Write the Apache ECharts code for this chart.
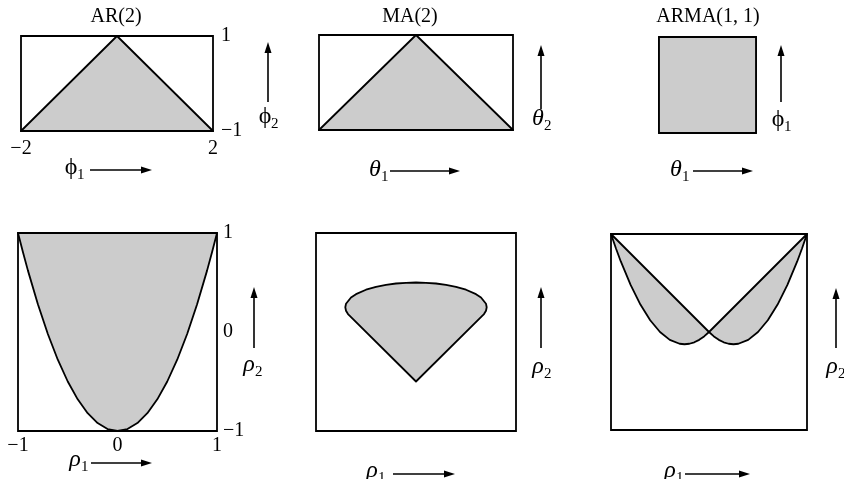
<!DOCTYPE html>
<html>
<head>
<meta charset="utf-8">
<script src="https://cdn.jsdelivr.net/npm/echarts@6/dist/echarts.min.js"></script>
<style>
  html, body { margin: 0; padding: 0; background: #fff; }
  #chart { width: 844px; height: 479px; }
</style>
</head>
<body>
<div id="chart"></div>
<script>
// Admissible regions: parameter space (top row) and autocorrelation space (bottom row)
const panelTitles = ['AR(2)', 'MA(2)', 'ARMA(1, 1)'];

// Top row: stationarity / invertibility regions in parameter space
const ar2Params = [[-2, -1], [0, 1], [2, -1]];
const ma2Params = [[-2, -1], [0, 1], [2, -1]];
const arma11Params = [[-1, -1], [1, -1], [1, 1], [-1, 1]];

// Bottom row: admissible (rho1, rho2) regions
const ar2Rho = [
  [-1, 1], [-0.95, 0.805], [-0.9, 0.62], [-0.8, 0.28], [-0.7, -0.02], [-0.6, -0.28],
  [-0.5, -0.5], [-0.4, -0.68], [-0.3, -0.82], [-0.2, -0.92], [-0.1, -0.98], [0, -1],
  [0.1, -0.98], [0.2, -0.92], [0.3, -0.82], [0.4, -0.68], [0.5, -0.5], [0.6, -0.28],
  [0.7, -0.02], [0.8, 0.28], [0.9, 0.62], [0.95, 0.805], [1, 1]
];
const ma2Rho = [
  [0, -0.5], [0.667, 0.167], [0.68, 0.181], [0.7, 0.215], [0.707, 0.25], [0.7, 0.285],
  [0.65, 0.348], [0.6, 0.382], [0.5, 0.427], [0.4, 0.456], [0.3, 0.476], [0.2, 0.49],
  [0.1, 0.497], [0, 0.5], [-0.1, 0.497], [-0.2, 0.49], [-0.3, 0.476], [-0.4, 0.456],
  [-0.5, 0.427], [-0.6, 0.382], [-0.65, 0.348], [-0.7, 0.285], [-0.707, 0.25],
  [-0.7, 0.215], [-0.68, 0.181], [-0.667, 0.167]
];
const arma11RhoLeft = [
  [0, 0], [-1, 1], [-0.95, 0.855], [-0.9, 0.72], [-0.8, 0.48], [-0.7, 0.28], [-0.6, 0.12],
  [-0.5, 0], [-0.4, -0.08], [-0.3, -0.12], [-0.25, -0.125], [-0.2, -0.12], [-0.15, -0.105],
  [-0.1, -0.08], [-0.05, -0.045]
];
const arma11RhoRight = [
  [0, 0], [1, 1], [0.95, 0.855], [0.9, 0.72], [0.8, 0.48], [0.7, 0.28], [0.6, 0.12],
  [0.5, 0], [0.4, -0.08], [0.3, -0.12], [0.25, -0.125], [0.2, -0.12], [0.15, -0.105],
  [0.1, -0.08], [0.05, -0.045]
];

// Tick labels
const ar2PhiTicksX = [-2, 2];
const ar2PhiTicksY = [-1, 1];
const ar2RhoTicksX = [-1, 0, 1];
const ar2RhoTicksY = [-1, 0, 1];

const SERIF = '"Liberation Serif", "DejaVu Serif", "Times New Roman", serif';
const INK = '#000';
const SHADE = '#cccccc';

const chart = echarts.init(document.getElementById('chart'), null, { renderer: 'canvas' });

const grids = [
  { left: 21, top: 36, width: 192, height: 95 },
  { left: 319, top: 35, width: 194, height: 95 },
  { left: 659, top: 37, width: 97, height: 96 },
  { left: 18, top: 233, width: 199, height: 198 },
  { left: 316, top: 233, width: 200, height: 198 },
  { left: 611, top: 234, width: 196, height: 196 }
].map(g => Object.assign({ show: true, borderColor: INK, borderWidth: 1.8, backgroundColor: 'transparent' }, g));

const fmt = v => (v < 0 ? '\u2212' + Math.abs(v) : String(v));

function axis(gridIndex, min, max, ticks, extra) {
  return Object.assign({
    type: 'value', gridIndex, min, max,
    axisLine: { show: false }, axisTick: { show: false }, splitLine: { show: false },
    axisLabel: ticks ? {
      show: true, customValues: ticks, formatter: fmt,
      fontFamily: SERIF, fontSize: 20, color: INK, margin: 8
    } : { show: false }
  }, extra || {});
}

const xAxes = [
  axis(0, -2, 2, ar2PhiTicksX),
  axis(1, -2, 2, null),
  axis(2, -1, 1, null),
  axis(3, -1, 1, ar2RhoTicksX),
  axis(4, -1, 1, null),
  axis(5, -1, 1, null)
];
xAxes[3].axisLabel.margin = 5;

const yAxes = [
  axis(0, -1, 1, ar2PhiTicksY, { position: 'right' }),
  axis(1, -1, 1, null),
  axis(2, -1, 1, null),
  axis(3, -1, 1, ar2RhoTicksY, { position: 'right' }),
  axis(4, -1, 1, null),
  axis(5, -1, 1, null)
];
yAxes[3].axisLabel.margin = 6;

function region(idx, pts) {
  return {
    type: 'custom', coordinateSystem: 'cartesian2d',
    xAxisIndex: idx, yAxisIndex: idx, silent: true,
    data: [[pts[0][0], pts[0][1]]],
    renderItem: (params, api) => ({
      type: 'polygon',
      shape: { points: pts.map(p => api.coord(p)) },
      style: { fill: SHADE, stroke: INK, lineWidth: 1.8, lineJoin: 'round' }
    })
  };
}

const series = [
  region(0, ar2Params),
  region(1, ma2Params),
  region(2, arma11Params),
  region(3, ar2Rho),
  region(4, ma2Rho),
  region(5, arma11RhoLeft),
  region(5, arma11RhoRight)
];

// Direction arrows beside each panel
function arrowUp(x, tail, tip) {
  return [
    { type: 'line', shape: { x1: x, y1: tail, x2: x, y2: tip + 8 }, style: { stroke: INK, lineWidth: 1.6 } },
    { type: 'polygon', shape: { points: [[x, tip], [x - 3.5, tip + 11], [x + 3.5, tip + 11]] }, style: { fill: INK } }
  ];
}
function arrowRight(y, tail, tip) {
  return [
    { type: 'line', shape: { x1: tail, y1: y, x2: tip - 8, y2: y }, style: { stroke: INK, lineWidth: 1.6 } },
    { type: 'polygon', shape: { points: [[tip, y], [tip - 11, y - 3.5], [tip - 11, y + 3.5]] }, style: { fill: INK } }
  ];
}
// Greek symbol with a numeric subscript
function symbol(cx, cy, glyph, sub, upright) {
  return [
    { type: 'text', x: cx, y: cy, style: { text: glyph, font: (upright ? '' : 'italic ') + '24px ' + SERIF, fill: INK, align: 'center', verticalAlign: 'middle' } },
    { type: 'text', x: cx + 6, y: cy + 7, style: { text: sub, font: '15px ' + SERIF, fill: INK, align: 'left', verticalAlign: 'middle' } }
  ];
}
function title(cx, cy, text) {
  return { type: 'text', x: cx, y: cy, style: { text, font: '20px ' + SERIF, fill: INK, align: 'center', verticalAlign: 'middle' } };
}

const PHI = '\u03D5', THETA = '\u03B8', RHO = '\u03C1';

const graphics = [
  title(116, 17, panelTitles[0]),
  title(410, 17, panelTitles[1]),
  title(708, 17, panelTitles[2]),

  ...arrowUp(268, 102, 42), ...symbol(265, 117, PHI, '2', true),
  ...arrowRight(170, 90, 152), ...symbol(71, 168, PHI, '1', true),

  ...arrowUp(541, 109, 45), ...symbol(538, 119, THETA, '2'),
  ...arrowRight(171, 390, 460), ...symbol(375, 170, THETA, '1'),

  ...arrowUp(781, 102, 45), ...symbol(778, 120, PHI, '1', true),
  ...arrowRight(171, 693, 753), ...symbol(676, 170, THETA, '1'),

  ...arrowUp(254, 348, 287), ...symbol(249, 365, RHO, '2'),
  ...arrowRight(463, 91, 152), ...symbol(75, 460, RHO, '1'),

  ...arrowUp(541, 348, 287), ...symbol(538, 367, RHO, '2'),
  ...arrowRight(474, 393, 455), ...symbol(372, 471, RHO, '1'),

  ...arrowUp(836, 348, 288), ...symbol(832, 367, RHO, '2'),
  ...arrowRight(474, 685, 750), ...symbol(670, 471, RHO, '1')
];

chart.setOption({
  animation: false,
  backgroundColor: '#fff',
  grid: grids,
  xAxis: xAxes,
  yAxis: yAxes,
  series,
  graphic: { elements: graphics }
});
</script>
</body>
</html>
